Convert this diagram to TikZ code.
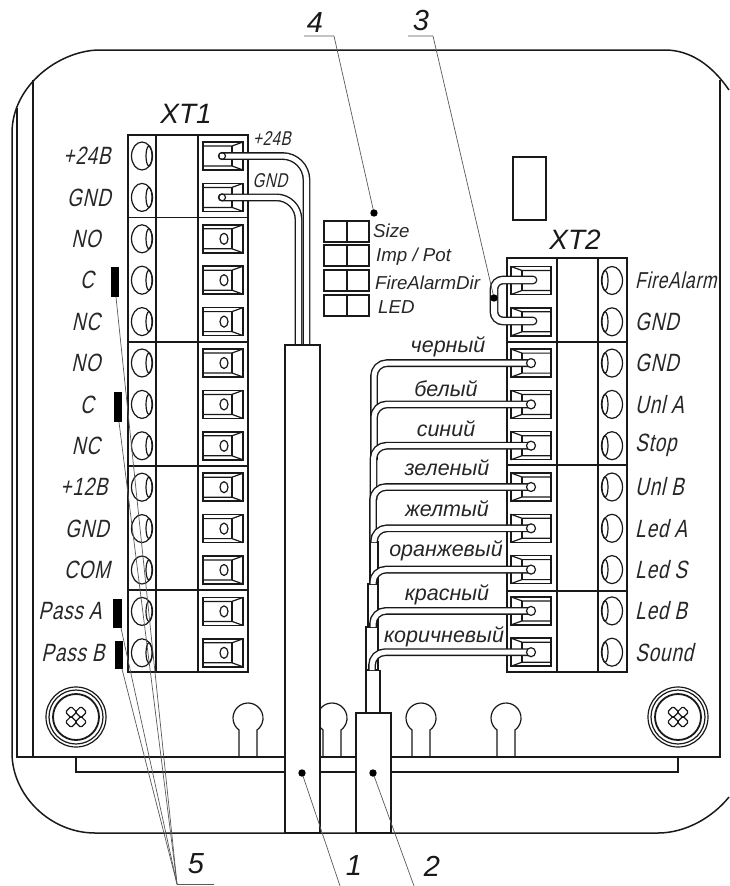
\documentclass[tikz,border=0pt]{standalone}
\usepackage{fontspec}
\setmainfont{Liberation Sans}
\newfontfamily\gostfont[FakeStretch=0.76, FakeSlant=0.22, LetterSpace=3]{Liberation Sans}
\newcommand{\termrow}{%
    % screw side
    \draw[thinline] (142,0) ellipse [x radius=10.5, y radius=14];
    \draw[thinline] (149,0) ellipse [x radius=3, y radius=10];
    % clamp side
    \draw[thickline] (203,-14) rectangle (243,14);
    \draw[thinline] (203,-10) -- (232,-10) -- (243,-14);
    \draw[thinline] (203,10) -- (232,10) -- (243,14);
    \draw[thinline] (232,-10) -- (232,10);
}
\begin{document}
\begin{tikzpicture}[
    x=1pt, y=-1pt,
    thinline/.style={line width=1.2pt, black!90},
    thickline/.style={line width=1.5pt, black!90},
    wire/.style={double=white, double distance=5pt, line width=1.4pt, black!90},
    capwire/.style={wire, line cap=round},
    leader/.style={line width=0.7pt, black!65},
    bar/.style={fill=black, draw=none},
    dotmark/.style={fill=black, draw=none},
    gostlabel/.style={font=\gostfont\fontsize{25}{27}\selectfont, text=black!85, inner sep=0pt},
    smallgost/.style={font=\gostfont\fontsize{20}{22}\selectfont, text=black!85, inner sep=0pt},
    wirelabel/.style={font=\itshape\fontsize{21.5}{24}\selectfont, text=black!85, inner sep=0pt},
    switchlabel/.style={font=\itshape\fontsize{18.7}{21}\selectfont, text=black!85, inner sep=0pt, anchor=west},
    blocktitle/.style={font=\itshape\fontsize{28}{30}\selectfont, text=black!90, inner sep=0pt},
    numlabel/.style={font=\itshape\fontsize{29}{31}\selectfont, text=black!90, inner sep=0pt}
]
    \useasboundingbox (0,0) rectangle (729,886);

    % Housing outline
    \draw[thickline] (729,90) .. controls (712,65) and (690,50) .. (665,50) -- (100,50)
        .. controls (60,50) and (12,85) .. (12,133) -- (12,753)
        .. controls (12,795) and (50,833) .. (95,833) -- (658,833)
        .. controls (685,833) and (712,818) .. (729,797);
    \draw[thickline] (17,108) -- (17,757) -- (720,757) -- (720,80);
    \draw[thickline] (33,80) -- (33,757);
    \draw[thickline] (76,757) -- (76,772) -- (678,772) -- (678,757);

    % Keyholes
    \foreach \kx in {248,332,421,506} {
        \draw[thinline] (\kx-9,757) -- (\kx-9,730) arc [start angle=127, end angle=413, radius=15] -- (\kx+9,757);
    }

    % Mounting screws
    \foreach \sx in {76,678} {
        \begin{scope}[shift={(\sx,717)}]
            \draw[thinline] (0,0) circle (30);
            \draw[thinline] (0,0) circle (27);
            \draw[line width=1.8pt, black!90] (0,0) circle (23);
            \foreach \lobe in {45,135,225,315} {
                \draw[thinline, rotate=\lobe, rounded corners=1.5pt] (3,-4) rectangle (11,4);
            }
        \end{scope}
    }

    % XT1 block
    \draw[thickline] (128,135) rectangle (248,672);
    \draw[thickline] (156,135) -- (156,672);
    \draw[thickline] (198,135) -- (198,672);
    \foreach \dy in {217.5,342,466,590} {
        \draw[thinline] (128,\dy) -- (248,\dy);
    }
    \foreach \i in {0,...,12} {
        \pgfmathsetmacro{\ty}{156+41.4*\i}
        \begin{scope}[shift={(0,\ty)}]
            \termrow
            \ifnum\i>1
                \draw[thinline] (224,0) ellipse [x radius=4, y radius=5.5];
            \fi
        \end{scope}
    }
    \foreach \i/\txt/\cx in {0/+24B/87,1/GND/89,2/NO/86,3/C/87,4/NC/86,5/NO/86,6/C/87,7/NC/86,8/+12B/84,9/GND/87,10/COM/87,11/Pass A/70,12/Pass B/73} {
        \pgfmathsetmacro{\ty}{156+41.4*\i}
        \node[gostlabel] (xtoneL\i) at (\cx,\ty) {\txt};
    }
    \node[blocktitle] (xtone) at (186,114) {XT1};

    % XT2 block
    \draw[thickline] (507,258) rectangle (627,672);
    \draw[thickline] (557,258) -- (557,672);
    \draw[thickline] (598,258) -- (598,672);
    \foreach \dy in {342,465,591} {
        \draw[thinline] (507,\dy) -- (627,\dy);
    }
    \foreach \i in {0,...,9} {
        \pgfmathsetmacro{\ty}{280.5+41.3*\i}
        \begin{scope}[shift={(754,\ty)}, xscale=-1]
            \termrow
        \end{scope}
    }
    \foreach \i/\txt in {1/GND,2/GND,3/Unl A,4/Stop,5/Unl B,6/Led A,7/Led S,8/Led B,9/Sound} {
        \pgfmathsetmacro{\ty}{280.5+41.3*\i}
        \node[gostlabel, anchor=west] (xttwoL\i) at (635,\ty) {\txt};
    }
    \node[gostlabel, anchor=west, font=\gostfont\fontsize{23}{25}\selectfont] (xttwoL0) at (635,280.5) {FireAlarm};
    \node[blocktitle] (xttwo) at (575,240) {XT2};
    \draw[thinline] (513,157) rectangle (546,220);

    % DIP switch
    \foreach \ry in {221,245,270,295} {
        \draw[thinline] (324,\ry) rectangle (347,\ry+21);
        \draw[thinline] (347,\ry) rectangle (369,\ry+21);
    }
    \node[switchlabel] (swsize) at (373,231) {Size};
    \node[switchlabel] (swimp) at (376,257) {Imp / Pot};
    \node[switchlabel] (swfire) at (375,283) {FireAlarmDir};
    \node[switchlabel] (swled) at (378,307) {LED};

    % Wires of XT1
    \draw[capwire, rounded corners=22pt] (222,197.4) -- (298.5,197.4) -- (298.5,345);
    \draw[capwire, rounded corners=24pt] (222,156) -- (306.5,156) -- (306.5,345);
    \foreach \wy in {156,197.4} {
        \draw[thinline] (222,\wy) circle (3.5);
    }
    \node[smallgost] (wireplus) at (272,139) {+24B};
    \node[smallgost] (wiregnd) at (270,181) {GND};

    % Sleeves
    \draw[thickline, fill=white] (285,345) rectangle (320,833);
    \draw[thickline] (370,542) rectangle (378,583);
    \draw[thickline] (368,584) rectangle (378,627);
    \draw[thickline] (366,627) rectangle (378,670);
    \draw[thickline] (366,670) -- (366,713);
    \draw[thickline] (380,670) -- (380,713);
    \draw[thickline, fill=white] (356,713) rectangle (391,833);

    % Wires of XT2
    \foreach \wy/\wx/\wend in {363.1/374/420,404.4/374/460,445.7/373.5/500,487/373/542,528.3/374/542,569.6/373/584,610.9/373/627,652.2/372/670} {
        \draw[wire, rounded corners=13pt] (\wx,\wend) -- (\wx,\wy) -- (531,\wy);
    }
    \foreach \wy in {363.1,404.4,445.7,487,528.3,569.6,610.9,652.2} {
        \draw[thinline, fill=white] (531,\wy) circle (4.5);
    }
    \foreach \i/\txt/\cx/\ty in {0/черный/448/347,1/белый/446/389,2/синий/446/429,3/зеленый/447/468,4/желтый/447/509,5/оранжевый/446/551,6/красный/447/595,7/коричневый/444/637} {
        \node[wirelabel] (colour\i) at (\cx,\ty) {\txt};
    }

    % Jumper
    \draw[capwire, double distance=6pt, rounded corners=9pt] (533,280) -- (494,280) -- (494,321) -- (533,321);

    % Black bars
    \fill[bar] (111,267) rectangle (119,297);
    \fill[bar] (114,392) rectangle (122,422);
    \fill[bar] (113,599) rectangle (122,628);
    \fill[bar] (115,641) rectangle (123,669);

    % Callouts
    \node[numlabel] (numfour) at (315,23) {4};
    \node[numlabel] (numthree) at (421,21) {3};
    \node[numlabel] (numfive) at (196,864) {5};
    \node[numlabel] (numone) at (354,866) {1};
    \node[numlabel] (numtwo) at (432,866) {2};

    \coordinate (tipfour) at (374,213);
    \coordinate (tipthree) at (494,298);
    \coordinate (tipone) at (302,773);
    \coordinate (tiptwo) at (373,773);
    \coordinate (footfour) at (334,36);
    \coordinate (footthree) at (433,36);
    \coordinate (footfive) at (177,884);
    \coordinate (footone) at (340,886);
    \coordinate (foottwo) at (414,886);
    \coordinate (barone) at (116,297);
    \coordinate (bartwo) at (119,422);
    \coordinate (barthree) at (121,628);
    \coordinate (barfour) at (122,669);

    \draw[leader] (304,36) -- (footfour) -- (tipfour);
    \draw[leader] (408,36) -- (footthree) -- (tipthree);
    \draw[leader] (214,884) -- (footfive);
    \foreach \b in {barone,bartwo,barthree,barfour} {
        \draw[leader] (footfive) -- (\b);
    }
    \draw[leader] (tipone) -- (footone);
    \draw[leader] (tiptwo) -- (foottwo);
    \foreach \t in {tipfour,tipthree,tipone,tiptwo} {
        \fill[dotmark] (\t) circle (3.7);
    }
\end{tikzpicture}
\end{document}
